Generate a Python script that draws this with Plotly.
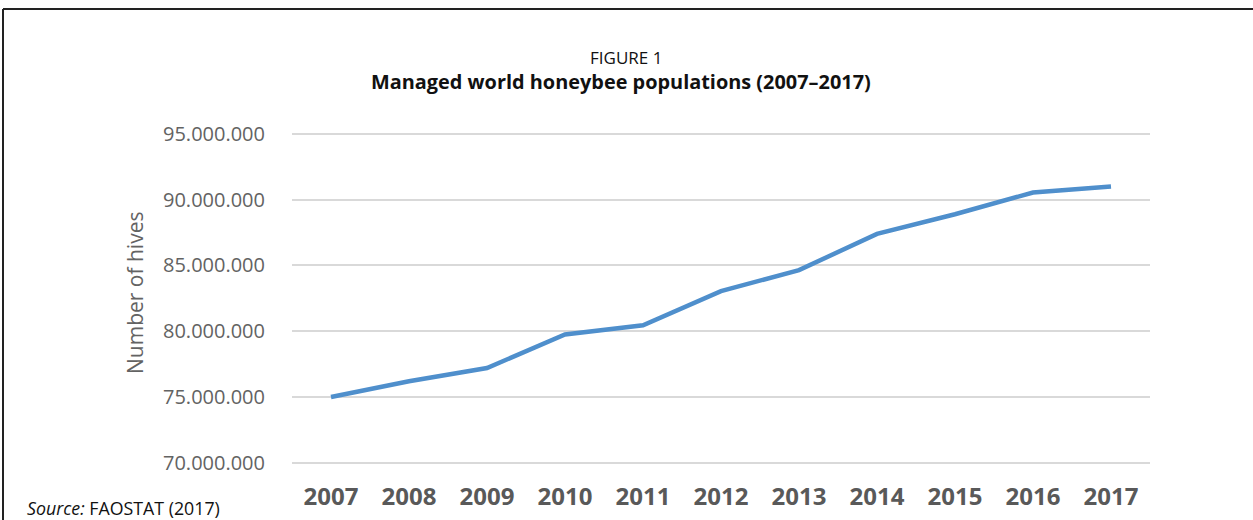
import plotly.graph_objects as go

years = ["2007", "2008", "2009", "2010", "2011", "2012", "2013", "2014", "2015", "2016", "2017"]
hives = [75.0e6, 76.2e6, 77.2e6, 79.75e6, 80.45e6, 83.05e6, 84.65e6, 87.4e6, 88.9e6, 90.55e6, 91.0e6]
y_ticks = [70e6, 75e6, 80e6, 85e6, 90e6, 95e6]
y_tick_text = ["70.000.000", "75.000.000", "80.000.000", "85.000.000", "90.000.000", "95.000.000"]

W, H = 1253, 520

def px(x):
    return x / W

def py(y):
    return 1 - y / H

fig = go.Figure()
fig.add_trace(go.Scatter(
    x=years, y=hives, mode="lines",
    line=dict(color="#4F8FCC", width=4.5),
    hoverinfo="x+y", showlegend=False,
))

tick_font = "Open Sans, Noto Sans, sans-serif"

fig.update_layout(
    width=W, height=H,
    margin=dict(l=0, r=0, t=0, b=0, autoexpand=False),
    paper_bgcolor="white", plot_bgcolor="white",
    xaxis=dict(
        type="category", domain=[px(292), px(1150)], range=[-0.5, 10.5],
        showgrid=False, zeroline=False, showline=False, automargin=False,
        ticks="outside", ticklen=10, tickcolor="rgba(0,0,0,0)",
        tickfont=dict(family=tick_font, size=24, color="#595959", weight="bold"),
        fixedrange=True,
    ),
    yaxis=dict(
        domain=[py(465.3), py(131.4)], range=[69.8e6, 95.2e6],
        tickvals=y_ticks, ticktext=y_tick_text, automargin=False,
        showgrid=True, gridcolor="#D9D9D9", gridwidth=1.5,
        zeroline=False, showline=False,
        ticks="outside", ticklen=22, tickcolor="rgba(0,0,0,0)",
        tickfont=dict(family=tick_font, size=20, color="#636363"),
        fixedrange=True,
    ),
    annotations=[
        dict(text="FIGURE 1", x=px(626), y=py(57), xref="paper", yref="paper",
             showarrow=False, xanchor="center", yanchor="middle",
             font=dict(family="Open Sans, sans-serif", size=17, color="#111111")),
        dict(text="<b>Managed world honeybee populations (2007–2017)</b>", x=px(621), y=py(81),
             xref="paper", yref="paper", showarrow=False, xanchor="center", yanchor="middle",
             font=dict(family="Open Sans, sans-serif", size=19.9, color="#111111")),
        dict(text="Number of hives", x=px(135), y=py(293), xref="paper", yref="paper",
             showarrow=False, xanchor="center", yanchor="middle", textangle=-90,
             font=dict(family=tick_font, size=21, color="#636363")),
        dict(text="<i>Source:</i> FAOSTAT (2017)", x=px(25), y=py(508), xref="paper", yref="paper",
             showarrow=False, xanchor="left", yanchor="middle",
             font=dict(family="Open Sans, sans-serif", size=17.8, color="#111111")),
    ],
    shapes=[
        dict(type="line", xref="paper", yref="paper", x0=px(3), x1=1, y0=py(9), y1=py(9),
             line=dict(color="#222222", width=2)),
        dict(type="line", xref="paper", yref="paper", x0=px(3), x1=px(3), y0=py(9), y1=0,
             line=dict(color="#222222", width=2)),
    ],
)

fig.write_html("out.html", config={"displayModeBar": False},
               post_script="document.body.style.margin='0';")
